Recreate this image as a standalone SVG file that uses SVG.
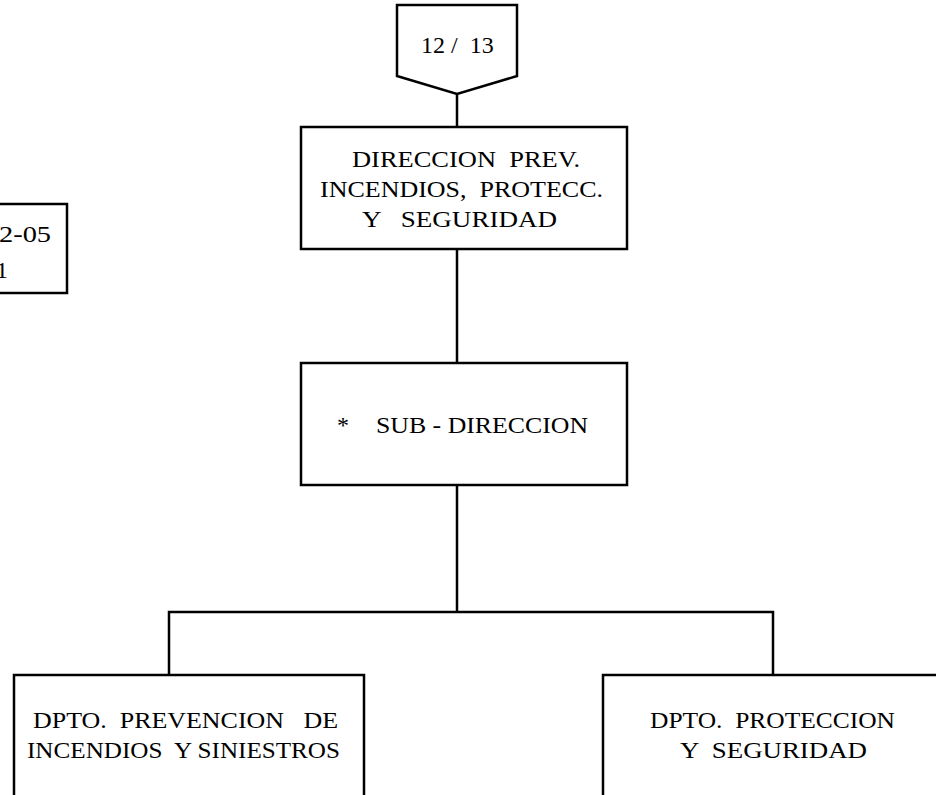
<svg xmlns="http://www.w3.org/2000/svg" width="936" height="795" viewBox="0 0 936 795" font-family="'Liberation Serif', 'Times New Roman', serif" font-size="24">
<style>
.box{fill:#fff;stroke:#000;stroke-width:2.5}
.ln{fill:none;stroke:#000;stroke-width:2.5}
.t{font-family:'Liberation Serif','Times New Roman',serif;font-size:24px;fill:#000}
</style>
<rect width="936" height="795" fill="#fff"/>
<g id="connectors">
<line class="ln" x1="457" y1="93" x2="457" y2="127"/>
<line class="ln" x1="457" y1="249" x2="457" y2="363"/>
<line class="ln" x1="457" y1="485" x2="457" y2="612"/>
<polyline class="ln" points="169,675 169,612 773,612 773,675"/>
</g>
<g id="ref-page">
<polygon class="box" points="397,5 517,5 517,76 457,94 397,76"/>
<text class="t" x="421" y="53" xml:space="preserve">12 /  13</text>
</g>
<g id="side-box">
<rect class="box" x="-10" y="204" width="77" height="89"/>
<text class="t" x="-1" y="242" textLength="52" lengthAdjust="spacingAndGlyphs">2-05</text>
<text class="t" x="-4" y="278">1</text>
</g>
<g id="direccion">
<rect class="box" x="301" y="127" width="326" height="122"/>
<text class="t" x="352" y="167" xml:space="preserve" textLength="228" lengthAdjust="spacingAndGlyphs">DIRECCION  PREV.</text>
<text class="t" x="320" y="197" xml:space="preserve" textLength="283" lengthAdjust="spacingAndGlyphs">INCENDIOS,  PROTECC.</text>
<text class="t" x="362" y="227" xml:space="preserve" textLength="195" lengthAdjust="spacingAndGlyphs">Y   SEGURIDAD</text>
</g>
<g id="subdireccion">
<rect class="box" x="301" y="363" width="326" height="122"/>
<text class="t" x="337" y="433">*</text>
<text class="t" x="376" y="433" textLength="212" lengthAdjust="spacingAndGlyphs">SUB - DIRECCION</text>
</g>
<g id="dpto-prevencion">
<rect class="box" x="14" y="675" width="350" height="140"/>
<text class="t" x="33" y="728" xml:space="preserve" textLength="305" lengthAdjust="spacingAndGlyphs">DPTO.  PREVENCION   DE</text>
<text class="t" x="27" y="758" xml:space="preserve" textLength="313" lengthAdjust="spacingAndGlyphs">INCENDIOS  Y SINIESTROS</text>
</g>
<g id="dpto-proteccion">
<rect class="box" x="603" y="675" width="350" height="140"/>
<text class="t" x="650" y="728" xml:space="preserve" textLength="245" lengthAdjust="spacingAndGlyphs">DPTO.  PROTECCION</text>
<text class="t" x="680" y="758" xml:space="preserve" textLength="187" lengthAdjust="spacingAndGlyphs">Y  SEGURIDAD</text>
</g>
</svg>
